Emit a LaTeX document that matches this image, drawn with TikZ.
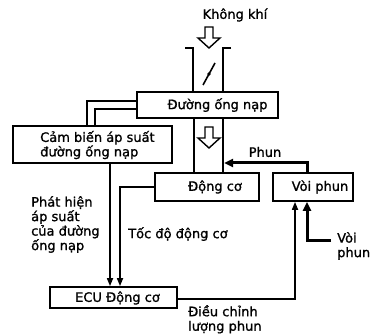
\documentclass[tikz,border=0pt]{standalone}
\usepackage{fontspec}
\setmainfont{DejaVu Sans}
\newfontfamily\labelfont{DejaVu Sans}[UprightFeatures={FakeBold=1.2}]
\usetikzlibrary{arrows.meta,calc}
\begin{document}
\begin{tikzpicture}[x=1pt,y=-1pt,
  box/.style={draw, line width=1.7pt, inner sep=0pt},
  lbl/.style={inner sep=0pt, font=\labelfont\fontsize{13}{14.5}\selectfont, align=left},
  ln/.style={line width=1.7pt},
  arr/.style={line width=1.6pt, -{Triangle[length=8pt,width=6pt]}},
  tharr/.style={line width=3pt, -{Triangle[length=9pt,width=8pt]}},
  hollowdown/.pic={\draw[line width=1.4pt, fill=white, line join=miter]
     (-4,0)--(4,0)--(4,11)--(11,11)--(0,21)--(-11,11)--(-4,11)--cycle;}
  ]
\useasboundingbox (0,0) rectangle (371,336);

% boxes
\node[box, minimum width=141pt, minimum height=26pt] (man) at (207.5,105) {};
\node[box, minimum width=159pt, minimum height=37pt] (sensor) at (92.5,144.5) {};
\node[box, minimum width=104pt, minimum height=28pt] (eng) at (207,187) {};
\node[box, minimum width=80pt, minimum height=28pt] (inj) at (313,187) {};
\node[box, minimum width=127pt, minimum height=21pt] (ecu) at (113.5,297.5) {};

% box labels
\node[lbl] (mantxt) at (217.5,105) {Đường ống nạp};
\node[lbl, anchor=west] (sentxt) at (40,145) {Cảm biến áp suất\\đường ống nạp};
\node[lbl] (engtxt) at (215,187) {Động cơ};
\node[lbl] (injtxt) at (320,187) {Vòi phun};
\node[lbl] (ecutxt) at (117.5,298) {ECU Động cơ};

% intake pipe above manifold
\draw[ln] (185,48) -- (193,48) -- (man.north -| 193,0);
\draw[ln] (231,48) -- (223,48) -- (man.north -| 223,0);
% throttle valve
\draw[line width=1.6pt] (203,85) -- (215,63);
\fill (209,74) circle (1.8pt);
% pipe between manifold and engine
\draw[ln] (man.south -| 194,0) -- (eng.north -| 194,0);
\draw[ln] (man.south -| 223,0) -- (eng.north -| 223,0);
% hollow arrows
\pic at (209,27) {hollowdown};
\pic at (209,127) {hollowdown};
\node[lbl] (air) at (235,15) {Không khí};

% sensor pipe to manifold
\draw[ln] (sensor.north -| 87,0) |- (man.west |- 0,101);
\draw[ln] (sensor.north -| 95,0) |- (man.west |- 0,109);

% injection into pipe
\coordinate (phunend) at (224,163);
\draw[tharr] (inj.north -| 307,0) |- (phunend);
\node[lbl] (phun) at (265,152) {Phun};

% fuel input to injector
\coordinate (fuelin) at (331,240);
\draw[tharr] (fuelin) -| (inj.south -| 307,0);
\node[lbl, anchor=north west] (fueltxt) at (337,232) {Vòi\\phun};

% sensor -> ECU
\draw[arr] (sensor.south -| 110,0) -- (ecu.north -| 110,0);
% engine -> ECU
\draw[arr] (eng.west) -| (ecu.north -| 120,0);
% ECU -> injector
\draw[arr] (ecu.east |- 0,299) -| (inj.south -| 295,0);

% labels
\node[lbl, anchor=north west] (detect) at (31,196) {Phát hiện\\áp suất\\của đường\\ống nạp};
\node[lbl, anchor=west] (speed) at (128,234) {Tốc độ động cơ};
\node[lbl, anchor=north west] (adjust) at (188,305) {Điều chỉnh\\lượng phun};
\end{tikzpicture}
\end{document}
